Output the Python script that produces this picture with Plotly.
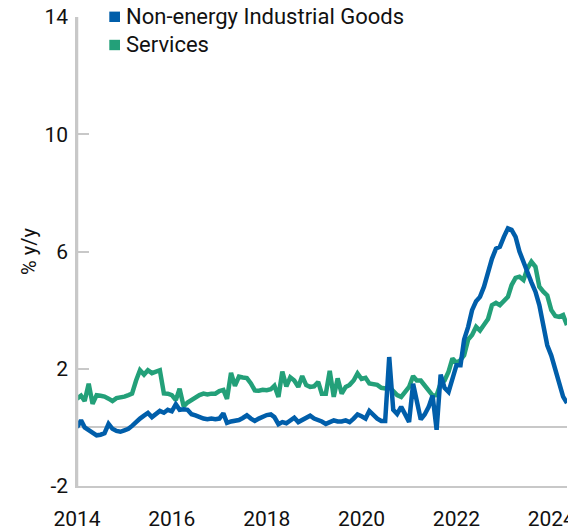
import pandas as pd
import plotly.graph_objects as go

dates = pd.date_range("2014-01-01", periods=125, freq="MS")

neig = [
    0.0, 0.24, 0.0, -0.1, -0.2, -0.27, -0.25, -0.2, 0.12, -0.05,
    -0.12, -0.15, -0.1, -0.05, 0.05, 0.2, 0.3, 0.4, 0.49, 0.35,
    0.45, 0.56, 0.5, 0.6, 0.55, 0.79, 0.6, 0.62, 0.6, 0.45,
    0.41, 0.35, 0.3, 0.28, 0.3, 0.28, 0.3, 0.48, 0.15, 0.2,
    0.22, 0.25, 0.32, 0.41, 0.3, 0.22, 0.3, 0.38, 0.42, 0.44,
    0.35, 0.11, 0.18, 0.14, 0.25, 0.33, 0.18, 0.25, 0.35, 0.4,
    0.3, 0.26, 0.2, 0.12, 0.2, 0.24, 0.2, 0.2, 0.24, 0.18,
    0.3, 0.44, 0.38, 0.3, 0.56, 0.4, 0.3, 0.22, 0.22, 2.4,
    0.6, 0.46, 0.7, 0.45, 0.18, 1.49, 0.9, 0.27, 0.44, 0.7,
    1.09, -0.08, 1.8, 1.35, 1.21, 1.66, 2.12, 2.12, 3.0, 3.43,
    4.0, 4.3, 4.45, 4.8, 5.3, 5.75, 6.1, 6.16, 6.5, 6.79,
    6.74, 6.5, 6.0, 5.6, 5.3, 4.95, 4.63, 4.17, 3.4, 2.8,
    2.45, 1.95, 1.45, 1.05, 0.83,
]

services = [
    0.98, 1.08, 0.9, 1.49, 0.8, 1.1, 1.08, 1.05, 0.98, 0.9,
    1.0, 1.02, 1.05, 1.1, 1.15, 1.6, 1.95, 1.8, 1.95, 1.85,
    1.9, 1.95, 1.16, 1.15, 1.1, 0.93, 1.32, 0.72, 0.85, 0.95,
    1.04, 1.1, 1.15, 1.12, 1.15, 1.15, 1.24, 1.28, 0.97, 1.86,
    1.42, 1.73, 1.7, 1.68, 1.5, 1.26, 1.25, 1.28, 1.27, 1.3,
    1.42, 1.04, 1.9, 1.4, 1.71, 1.6, 1.38, 1.75, 1.44, 1.38,
    1.4, 1.55, 1.15, 1.15, 1.93, 1.04, 1.67, 1.15, 1.38, 1.45,
    1.6, 1.84, 1.65, 1.69, 1.5, 1.48, 1.45, 1.35, 1.33, 1.38,
    1.25, 1.1, 1.04, 1.2, 1.38, 1.75, 1.6, 1.6, 1.43, 1.3,
    1.09, 1.1, 1.5, 1.6, 1.9, 2.35, 2.2, 2.3, 2.46, 3.0,
    3.15, 3.43, 3.3, 3.5, 3.7, 4.17, 4.25, 4.17, 4.34, 4.45,
    4.85, 5.1, 5.14, 5.03, 5.42, 5.65, 5.48, 4.8, 4.63, 4.5,
    4.0, 3.8, 3.77, 3.83, 3.49,
]

series_names = ["Non-energy Industrial Goods", "Services"]
colors = ["#005EAA", "#23A079"]
y_ticks = [-2, 2, 6, 10, 14]
y_ticktext = ["-2", "2", "6", "10", "14"]
x_tick_years = [2014, 2016, 2018, 2020, 2022, 2024]

FONT = "Roboto"
TXT = "#111111"
GRID = "#c8c8c8"

# The page body has an 8px default margin; size the figure to fit the window.
OFF = 8
W, H = 576 - OFF, 530 - OFF
# plot area in window pixels, converted to figure pixels
plot_l, plot_r, plot_t, plot_b = 77 - OFF, 567 - OFF, 17 - OFF, 486 - OFF
pw, ph = plot_r - plot_l, plot_b - plot_t

def px(x):  # window pixel -> paper x
    return (x - OFF - plot_l) / pw

def py(y):  # window pixel -> paper y
    return (plot_b - (y - OFF)) / ph

fig = go.Figure()
for name, vals, col in [(series_names[1], services, colors[1]), (series_names[0], neig, colors[0])]:
    fig.add_trace(go.Scatter(x=dates, y=vals, mode="lines", name=name,
                             line=dict(color=col, width=4.5), showlegend=False))

# left axis rule (drawn explicitly, just inside the plot edge)
fig.add_shape(type="line", xref="paper", yref="paper", x0=px(77.5), x1=px(77.5), y0=0, y1=1,
              line=dict(color=GRID, width=1.5), layer="above")

# legend drawn as squares + text (top-left, inside plot)
for i, (name, col) in enumerate(zip(series_names, colors)):
    cy = 16.8 + 28.2 * i
    fig.add_shape(type="rect", xref="paper", yref="paper",
                  x0=px(109.3), x1=px(120), y0=py(cy + 5.2), y1=py(cy - 5.2),
                  fillcolor=col, line=dict(width=0))
    fig.add_annotation(xref="paper", yref="paper", x=px(124), y=py(cy),
                       xanchor="left", yanchor="middle", showarrow=False,
                       text=name, font=dict(family=FONT, size=22, color=TXT))

fig.update_layout(
    width=W, height=H,
    margin=dict(l=plot_l, r=W - plot_r, t=plot_t, b=H - plot_b),
    paper_bgcolor="white", plot_bgcolor="white",
    font=dict(family=FONT, size=21, color=TXT),
    showlegend=False,
)
fig.update_yaxes(range=[-2, 14], tickvals=y_ticks, ticktext=y_ticktext, showgrid=False,
                 showline=True, linecolor=GRID, linewidth=1.5,
                 ticks="inside", ticklen=12, tickcolor=GRID, tickwidth=1.5,
                 zeroline=True, zerolinecolor=GRID, zerolinewidth=1.5,
                 automargin=False, ticklabelstandoff=3, ticklabeloverflow="allow",
                 title=dict(text="% y/y", font=dict(size=20), standoff=2),
                 tickfont=dict(size=21), layer="above traces")
fig.update_xaxes(range=[dates[0], dates[-1]],
                 tickvals=[pd.Timestamp(f"{y}-01-01") for y in x_tick_years],
                 ticktext=[str(y) for y in x_tick_years],
                 showgrid=False, showline=True, linecolor=GRID, linewidth=1.5,
                 ticks="", tickfont=dict(size=21), automargin=False,
                 ticklabelstandoff=13, ticklabeloverflow="allow")

fig.write_html("out.html")
